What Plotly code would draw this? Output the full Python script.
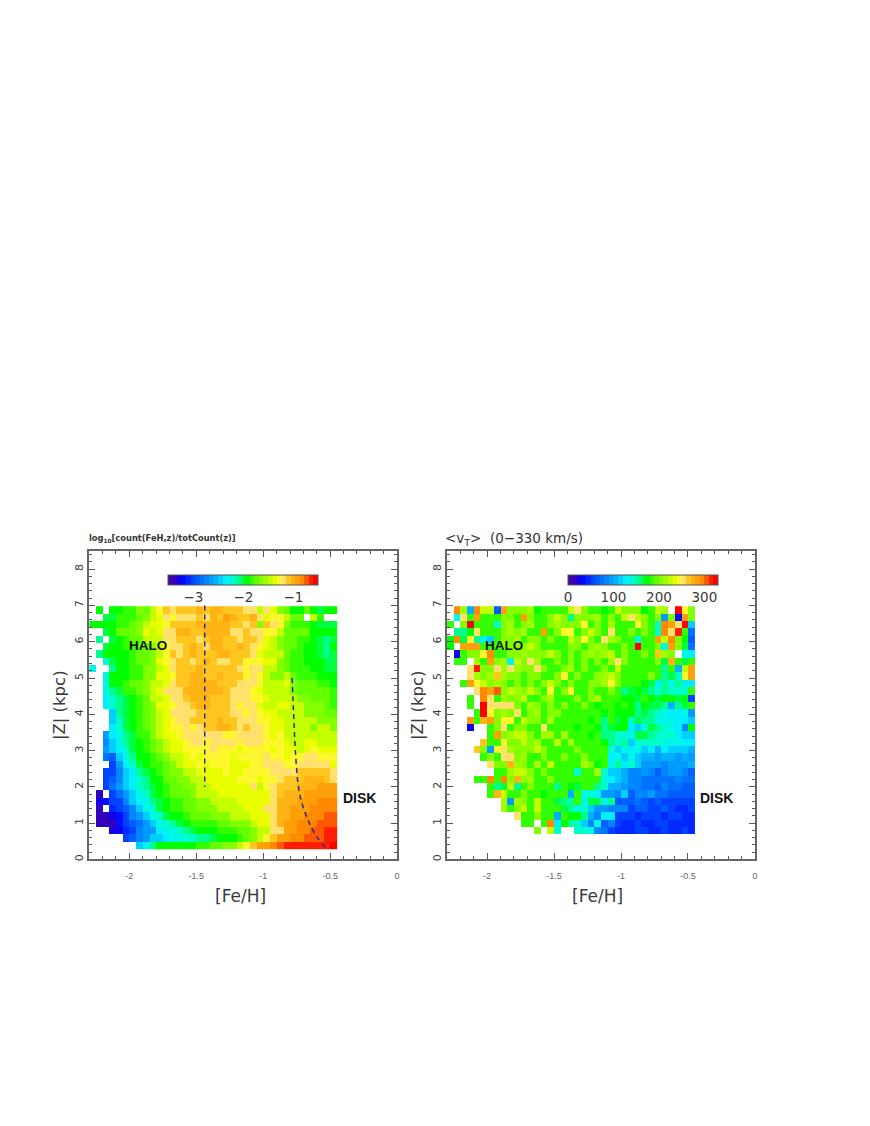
import plotly.graph_objects as go
from plotly.subplots import make_subplots

_ = None
W, H = 870, 1126

# log10 fraction x10, rows from top (|Z| high) to bottom; first entry is the [Fe/H] = -2.275 column
LOG_FRACTION_X10 = [
[_, -19,_,-19,-19,-18,-18, -16,-17,-15,-13,-11,-12, -11,-11,-11,-10,-11,-10, -10,-11,-11,-11,-12,-12, -15,-12,-14,-16,-17,-19, -19,-17,-19,-20,-19,-19],
[_, _,-20,-20,-18,-18,-18, -17,-16,-15,-14,-12,-13, -12,-12,-12,-11,-12,-10, -11,-9,-10,-11,-11,-10, -12,-14,-13,-13,-15,-17, -17,_,-15,-18,_,_],
[-19, -19,-19,-19,-18,-18,-17, -16,-15,-14,-14,-13,-11, -11,-11,-11,-10,-10,-10, -10,-10,-11,-11,-12,-11, -16,-11,-12,-13,-16,-18, -18,-18,-19,-20,-20,-20],
[_, _,-20,-19,-17,-17,-17, -16,-14,-15,-14,-12,-12, -10,-10,-11,-11,-10,-10, -10,-10,-12,-12,-11,-12, -12,-13,-13,-15,-17,-17, -17,-17,-19,-19,-19,-19],
[_, -21,_,-20,-19,-18,-17, -17,-15,-15,-15,-12,-12, -11,-11,-11,-12,-11,-10, -10,-11,-11,-12,-11,-11, -12,-14,-15,-16,-17,-17, -18,-18,-19,-20,-21,-20],
[_, _,-20,-19,-19,-18,-18, -17,-17,-16,-15,-13,-12, -12,-11,-10,-11,-12,-10, -10,-11,-11,-10,-11,-12, -13,-14,-15,-16,-17,-17, -18,-19,-19,-20,-21,-19],
[_, -21,-19,-19,-19,-19,-18, -17,-17,-16,-15,-13,-11, -12,-11,-10,-11,-11,-11, -10,-10,-11,-11,-11,-12, -14,-15,-15,-15,-17,-18, -18,-19,-19,-20,-21,-20],
[_, _,-22,-20,-19,-19,-18, -17,-17,-16,-14,-13,-12, -11,-11,-12,-11,-10,-11, -12,-12,-11,-11,-13,-13, -13,-14,-14,-16,-17,-18, -18,-19,-19,-19,-20,-20],
[-23, _,_,-21,-19,-19,-18, -18,-16,-16,-15,-14,-12, -11,-11,-11,-10,-11,-11, -11,-11,-11,-12,-13,-12, -12,-15,-15,-16,-17,-18, -18,-18,-19,-19,-20,-20],
[_, _,-23,-19,-19,-19,-18, -18,-16,-16,-14,-14,-13, -11,-11,-10,-10,-11,-11, -10,-11,-11,-11,-13,-12, -13,-15,-16,-16,-15,-17, -18,-18,-18,-19,-19,-19],
[_, _,-23,-19,-19,-18,-17, -17,-16,-15,-15,-14,-12, -11,-11,-10,-10,-10,-10, -11,-11,-11,-12,-12,-12, -13,-15,-15,-15,-14,-16, -17,-17,-17,-18,-18,-19],
[_, _,-23,-21,-20,-18,-18, -17,-16,-15,-14,-12,-12, -12,-10,-10,-10,-10,-10, -10,-11,-12,-12,-12,-13, -14,-15,-15,-15,-15,-16, -17,-17,-17,-17,-17,-18],
[_, _,-24,-22,-21,-20,-19, -18,-17,-15,-15,-14,-12, -12,-11,-10,-10,-10,-11, -11,-11,-12,-12,-12,-13, -13,-14,-15,-15,-15,-15, -16,-16,-17,-17,-17,-18],
[_, _,-24,-22,-21,-20,-19, -18,-17,-16,-14,-14,-13, -12,-12,-11,-10,-10,-11, -11,-11,-12,-13,-12,-12, -14,-15,-15,-14,-14,-15, -15,-16,-16,-16,-17,-18],
[_, _,_,-25,-21,-20,-19, -18,-17,-16,-15,-14,-12, -12,-12,-12,-11,-11,-11, -11,-11,-12,-12,-13,-12, -13,-14,-14,-15,-15,-15, -15,-16,-16,-16,-17,-17],
[_, _,_,-25,-22,-20,-19, -18,-17,-16,-15,-14,-13, -12,-12,-11,-11,-11,-11, -10,-11,-11,-12,-12,-12, -13,-13,-14,-14,-15,-15, -15,-15,-15,-16,-16,-16],
[_, _,_,-24,-22,-20,-19, -18,-17,-16,-15,-14,-13, -13,-12,-13,-12,-11,-11, -10,-10,-11,-12,-11,-12, -12,-13,-14,-14,-15,-15, -15,-15,-16,-15,-15,-16],
[_, _,-26,-24,-23,-21,-20, -18,-18,-16,-15,-14,-14, -13,-12,-12,-12,-12,-12, -12,-13,-13,-12,-12,-12, -12,-13,-14,-13,-15,-15, -15,-15,-15,-15,-15,-15],
[_, _,-27,-25,-23,-21,-20, -19,-18,-17,-16,-15,-14, -14,-13,-12,-12,-13,-12, -12,-12,-12,-13,-12,-12, -12,-13,-13,-13,-14,-15, -15,-14,-14,-15,-15,-15],
[_, _,-26,-25,-24,-22,-20, -19,-18,-17,-16,-15,-14, -14,-13,-13,-13,-13,-12, -13,-13,-13,-14,-13,-13, -13,-13,-14,-13,-14,-14, -15,-14,-13,-14,-14,-14],
[_, _,-28,-29,-25,-23,-21, -19,-19,-18,-17,-16,-15, -15,-14,-13,-14,-13,-13, -13,-13,-14,-13,-13,-13, -13,-12,-13,-13,-14,-13, -13,-12,-12,-13,-13,-13],
[_, _,_,-30,-26,-24,-22, -20,-19,-18,-18,-17,-16, -15,-14,-14,-13,-14,-13, -13,-13,-14,-14,-14,-13, -13,-12,-12,-12,-13,-13, -12,-12,-12,-12,-12,-14],
[_, _,-30,-30,-27,-25,-24, -21,-20,-19,-18,-17,-16, -16,-15,-15,-14,-14,-14, -14,-13,-14,-14,-13,-13, -13,-13,-12,-12,-12,-12, -11,-11,-11,-11,-11,-12],
[_, _,-30,-29,-27,-25,-24, -22,-21,-19,-19,-17,-17, -16,-16,-15,-15,-14,-14, -14,-14,-14,-13,-13,-13, -14,-13,-13,-12,-11,-11, -11,-10,-10,-10,-11,-12],
[_, _,-30,-28,-26,-25,-24, -22,-21,-20,-19,-18,-17, -17,-16,-16,-15,-15,-14, -14,-14,-14,-14,-14,-12, -15,-13,-12,-11,-11,-11, -10,-10,-10,-9,-9,-9],
[_, -34,_,-30,-28,-26,-25, -23,-22,-20,-19,-18,-17, -17,-17,-16,-15,-15,-15, -14,-14,-14,-14,-14,-14, -14,-14,-12,-11,-10,-10, -10,-9,-9,-9,-9,-9],
[_, -33,-32,-30,-30,-27,-25, -24,-23,-21,-20,-19,-18, -18,-17,-17,-16,-16,-15, -15,-15,-15,-14,-14,-14, -14,-14,-12,-10,-10,-10, -9,-9,-9,-8,-8,-8],
[_, -34,_,-31,-30,-29,-27, -25,-23,-22,-20,-19,-18, -18,-17,-17,-16,-16,-16, -15,-15,-15,-15,-14,-14, -14,-12,-12,-10,-10,-9, -9,-9,-8,-8,-8,-8],
[_, -34,-34,-33,-32,-30,-27, -26,-25,-23,-22,-20,-19, -19,-18,-17,-17,-17,-16, -16,-16,-15,-15,-15,-14, -14,-14,-12,-10,-10,-9, -9,-8,-8,-8,-7,-7],
[_, -34,-34,-34,-32,-30,-29, -28,-26,-25,-23,-22,-21, -20,-19,-18,-18,-18,-18, -17,-17,-16,-16,-16,-15, -14,-14,-12,-10,-9,-9, -8,-8,-8,-7,-7,-7],
[_, _,_,-33,-33,-31,-30, -27,-26,-26,-24,-23,-23, -22,-21,-20,-19,-19,-19, -18,-18,-18,-17,-17,-16, -15,-15,-12,-12,-9,-9, -8,-8,-7,-7,-6,-6],
[_, _,_,_,_,-30,-29, -27,-26,-25,-25,-24,-23, -23,-22,-22,-21,-21,-20, -19,-19,-19,-18,-17,-16, -15,-13,-11,-9,-9,-8, -8,-7,-7,-7,-6,-6],
[_, _,_,_,_,_,_, -25,-23,-21,-19,-19,-19, -19,-19,-19,-18,-18,-17, -17,-16,-16,-15,-13,-11, -9,-9,-8,-7,-6,-6, -6,-6,-6,-6,-6,-5],
]

# mean v_T in units of 10 km/s, same grid
VT_TENS = [
[_, 29,21,10,29,22,23, 6,28,20,20,20,21, 17,18,19,18,18,23, 25,20,19,19,17,19, 22,20,20,20,17,19, 23,21,_,32,24,20],
[_, 13,25,18,28,18,18, 19,20,20,19,28,20, 19,19,20,23,20,15, 20,20,20,21,19,20, 19,22,25,23,20,19, 20,9,20,3,28,20],
[18, _,20,32,18,18,19, 14,20,21,19,20,21, 19,18,20,21,20,20, 20,24,18,20,19,21, 18,18,19,24,20,19, 14,29,28,25,32,11],
[_, 15,15,17,25,18,18, 19,20,21,20,21,19, 19,28,19,20,24,24, 19,20,23,20,19,25, 19,18,20,19,20,19, 14,29,25,31,18,7],
[17, 29,16,24,15,13,11, 19,20,20,21,18,20, 20,18,20,18,19,22, 20,24,20,19,25,21, 20,19,18,13,19,19, 28,23,29,20,17,6],
[17, _,28,28,28,18,19, 19,20,20,20,20,23, 20,19,18,18,19,20, 20,19,20,21,20,19, 18,20,19,32,18,19, 20,13,28,20,16,7],
[_, 2,19,20,20,24,29, 18,19,20,20,21,20, 20,20,22,20,19,20, 19,20,21,20,21,23, 18,20,19,18,20,19, 26,21,20,_,13,12],
[_, 18,18,_,21,19,28, 20,21,13,23,20,25, 21,18,19,20,18,20, 19,20,19,20,19,21, 25,20,19,18,19,19, 20,16,27,19,16,19],
[_, _,_,25,31,20,20, 25,21,25,21,20,20, 25,20,19,18,20,21, 18,20,18,19,20,18, 22,19,18,19,18,18, 19,15,18,10,22,28],
[_, _,_,25,21,20,21, 26,21,20,20,18,20, 20,18,19,20,24,19, 20,18,19,20,21,22, 20,19,19,18,18,20, 18,15,16,14,24,28],
[_, _,19,28,24,22,20, 21,20,18,20,19,20, 19,20,22,20,19,20, 19,19,20,20,21,24, 20,18,18,19,17,16, 12,15,13,15,12,12],
[_, _,_,_,25,29,28, 30,20,22,21,20,22, 20,19,24,19,20,24, 19,18,20,19,19,20, 18,15,16,17,16,15, 14,15,14,14,14,18],
[_, _,_,19,_,29,25, 19,21,20,20,22,19, 18,20,21,19,18,19, 20,19,20,21,18,19, 18,17,17,16,18,17, 16,17,17,16,17,5],
[_, _,_,19,_,32,25, 25,25,25,20,19,21, 20,19,20,19,20,18, 19,20,18,17,19,18, 17,18,17,15,17,16, 16,15,10,15,16,18],
[_, _,_,_,18,32,24, 20,21,20,25,19,20, 21,19,20,20,18,19, 18,19,18,18,17,18, 17,17,17,15,16,15, 14,13,12,12,13,9],
[_, _,_,28,19,27,28, 20,24,24,19,22,20, 20,19,21,19,18,19, 18,19,17,18,15,18, 16,17,14,16,15,15, 13,13,13,12,12,11],
[_, _,_,2,_,_,19, 20,25,19,20,20,19, 19,25,19,19,18,18, 17,18,19,17,15,16, 17,17,12,11,13,16, 15,14,13,12,8,17],
[_, _,_,_,_,_,19, 28,20,21,22,22,20, 19,21,21,19,21,18, 19,19,17,18,15,15, 14,13,13,16,16,15, 14,14,14,12,11,11],
[_, _,_,_,_,26,19, 19,24,20,20,23,20, 21,19,19,22,18,21, 18,18,18,19,17,15, 14,15,11,14,14,14, 14,13,13,13,12,12],
[_, _,_,_,26,20,9, 24,25,21,20,20,20, 22,20,18,18,19,19, 20,18,18,18,19,14, 11,13,12,13,11,12, 10,12,11,11,11,10],
[_, _,_,_,_,19,20, 19,25,25,20,21,19, 19,20,19,19,20,18, 18,20,19,18,19,12, 13,11,13,11,10,10, 9,10,10,9,10,9],
[_, _,_,_,_,_,25, 20,20,27,21,20,18, 21,19,22,19,18,18, 19,21,20,17,18,13, 15,12,14,11,9,9, 9,8,9,9,9,10],
[_, _,_,_,_,_,_, 18,18,21,22,22,20, 19,20,19,19,18,19, 14,18,18,21,14,11, 11,10,8,8,9,8, 6,8,9,9,8,6],
[_, _,_,_,18,18,29, 19,29,20,27,20,21, 18,19,20,19,19,18, 19,18,19,18,13,12, 11,10,8,8,7,7, 7,7,7,8,7,7],
[_, _,_,_,_,_,18, 15,16,23,15,19,20, 18,19,18,15,19,17, 16,18,18,15,14,10, 10,9,8,8,7,7, 6,8,7,7,6,6],
[_, _,_,_,_,_,19, 27,22,18,18,20,19, 19,17,19,19,18,10, 18,13,14,12,9,9, 8,11,6,8,8,9, 7,7,6,6,6,6],
[_, _,_,_,_,_,_, _,21,9,21,20,18, 23,18,19,16,15,15, 18,13,16,16,13,15, 6,6,6,7,6,5, 6,5,5,5,5,5],
[_, _,_,_,_,_,_, _,21,19,20,22,18, 22,18,19,19,16,15, 13,14,11,9,9,8, 8,8,5,6,6,5, 5,6,5,4,4,5],
[_, _,_,_,_,_,_, _,_,_,25,19,19, 20,19,19,10,18,17, 17,15,10,8,12,12, 5,5,5,4,5,5, 5,4,5,5,4,4],
[_, _,_,_,_,_,_, _,_,_,_,18,18, _,18,29,12,17,15, 14,11,8,13,6,8, 5,4,4,5,4,4, 5,5,4,4,4,4],
[_, _,_,_,_,_,_, _,_,_,_,_,_, 20,_,22,14,_,_, 14,14,13,8,7,5, 4,4,4,5,5,4, 4,5,4,4,5,4],
[_]*37,
[_]*37,
]

# cell centres
FEH_BINS = [-2.275,-2.225,-2.175,-2.125,-2.075,-2.025,-1.975,-1.925,-1.875,-1.825,-1.775,-1.725,-1.675,
            -1.625,-1.575,-1.525,-1.475,-1.425,-1.375,-1.325,-1.275,-1.225,-1.175,-1.125,-1.075,-1.025,
            -0.975,-0.925,-0.875,-0.825,-0.775,-0.725,-0.675,-0.625,-0.575,-0.525,-0.475]
Z_BINS = [6.8775,6.675,6.4725,6.27,6.0675,5.865,5.6625,5.46,5.2575,5.055,4.8525,4.65,4.4475,4.245,4.0425,
          3.84,3.6375,3.435,3.2325,3.03,2.8275,2.625,2.4225,2.22,2.0175,1.815,1.6125,1.41,1.2075,1.005,
          0.8025,0.6,0.3975]

HALO_LINE_FEH = [-1.437, -1.437]
HALO_LINE_Z = [7.0, 2.0]
DISK_LINE_FEH = [-0.784, -0.773, -0.76, -0.737, -0.707, -0.655, -0.595, -0.53]
DISK_LINE_Z = [5.0, 4.0, 3.0, 2.0, 1.5, 1.0, 0.6, 0.3]

LOG_TICKS = [-3, -2, -1]
VT_TICKS = [0, 100, 200, 300]
X_TICKS = [-2, -1.5, -1, -0.5, 0]
X_TICK_LABELS = ["-2", "-1.5", "-1", "-0.5", "0"]
Y_TICKS = [0, 1, 2, 3, 4, 5, 6, 7, 8]

for rows in (LOG_FRACTION_X10, VT_TENS):
    assert all(len(r) == 37 for r in rows) and len(rows) == 33

ANCHORS = [(0, (80,0,150)), (.05, (48,0,192)), (.09, (0,0,255)), (.2, (0,96,255)), (.32, (0,176,255)),
           (.38, (0,240,255)), (.45, (0,255,192)), (.5, (0,255,64)), (.53, (0,255,0)), (.59, (100,255,0)),
           (.66, (170,255,0)), (.73, (255,255,0)), (.765, (255,232,128)), (.80, (255,200,32)), (.89, (255,144,0)),
           (.93, (255,80,0)), (.97, (255,0,0)), (1, (255,0,0))]

def color_at(f):
    for (a, ca), (b, cb) in zip(ANCHORS, ANCHORS[1:]):
        if f <= b:
            t = (f - a) / (b - a)
            return "rgb(%d,%d,%d)" % tuple(round(p + (q - p) * t) for p, q in zip(ca, cb))
    return "rgb(255,0,0)"

NSTEP = 33
COLORSCALE = []
for i in range(NSTEP):
    c = color_at((i + .5) / NSTEP)
    COLORSCALE += [[i / NSTEP, c], [(i + 1) / NSTEP, c]]

INK = "#3a3a3a"
fig = make_subplots(rows=1, cols=2)

def px_x(p): return p / W
def py(p): return 1 - p / H

def bar(x0):
    return dict(orientation="h", lenmode="pixels", len=150, thicknessmode="pixels", thickness=10,
                x=px_x(x0), xanchor="left", y=py(576), yanchor="top", xpad=0, ypad=0,
                outlinecolor="#555", outlinewidth=1, ticks="", ticklabelposition="outside bottom",
                tickfont=dict(family="DejaVu Sans", size=13.5, color=INK), tickmode="array")

log_bar = bar(169); log_bar.update(tickvals=LOG_TICKS, ticktext=["\u2212%d" % abs(v) for v in LOG_TICKS])
vt_bar = bar(570); vt_bar.update(tickvals=VT_TICKS, ticktext=[str(v) for v in VT_TICKS])

fig.add_trace(go.Heatmap(x=FEH_BINS, y=Z_BINS, z=[[None if v is None else v / 10 for v in r] for r in LOG_FRACTION_X10],
                         zmin=-3.5, zmax=-0.5, colorscale=COLORSCALE, colorbar=log_bar, hoverongaps=False), 1, 1)
fig.add_trace(go.Heatmap(x=FEH_BINS, y=Z_BINS, z=[[None if v is None else v * 10 for v in r] for r in VT_TENS],
                         zmin=0, zmax=330, colorscale=COLORSCALE, colorbar=vt_bar, hoverongaps=False), 1, 2)
line = dict(color="#2a2a9a", width=1.5, dash="5px,4px")
fig.add_trace(go.Scatter(x=HALO_LINE_FEH, y=HALO_LINE_Z, mode="lines", line=line, showlegend=False), 1, 1)
fig.add_trace(go.Scatter(x=DISK_LINE_FEH, y=DISK_LINE_Z, mode="lines", line=dict(line, shape="spline"), showlegend=False), 1, 1)

TOP, BOTTOM = 552, 861
for col, (l, r) in enumerate([(89.5, 398.5), (448.5, 757.5)], 1):
    fig.update_xaxes(row=1, col=col, domain=[l / W, r / W], range=[-2.3, 0], tickmode="array", tickvals=X_TICKS,
                     ticktext=X_TICK_LABELS, ticks="inside", ticklen=6, tickwidth=1.2, tickcolor="#555",
                     minor=dict(dtick=0.1, ticks="inside", ticklen=3, tickwidth=1, tickcolor="#555"),
                     showline=True, linecolor="#666", linewidth=2, mirror="allticks", showgrid=False, zeroline=False,
                     ticklabelstandoff=7,
                     tickfont=dict(family="Liberation Sans", size=9, color="#666"))
    fig.update_yaxes(row=1, col=col, domain=[py(BOTTOM), py(TOP)], range=[0, 8.5], tickmode="array", tickvals=Y_TICKS,
                     ticks="inside", ticklen=6, tickwidth=1.2, tickcolor="#555",
                     minor=dict(dtick=0.2, ticks="inside", ticklen=3, tickwidth=1, tickcolor="#555"),
                     showline=True, linecolor="#666", linewidth=2, mirror="allticks", showgrid=False, zeroline=False,
                     tickangle=-90, tickfont=dict(family="DejaVu Sans", size=11, color=INK),
                     title=dict(text="|Z| (kpc)", font=dict(family="DejaVu Sans", size=16.5, color=INK), standoff=3))

def note(text, x, y, size, family="Liberation Sans", color="#111", anchor="left"):
    fig.add_annotation(xref="paper", yref="paper", x=px_x(x), y=py(y), text=text, showarrow=False, xanchor=anchor,
                       yanchor="middle", font=dict(family=family, size=size, color=color))

note("<b>HALO</b>", 127, 647, 13.5)
note("<b>DISK</b>", 342, 799, 14)
note("<b>HALO</b>", 485, 647, 13.5)
note("<b>DISK</b>", 700, 799, 14)
note("<b>log<sub>10</sub>[count(FeH,z)/totCount(z)]</b>", 87, 539, 8.3, "DejaVu Sans", "#333")
note("<v<sub>T</sub>>  (0\u2212330 km/s)", 445, 540, 13.5, "DejaVu Sans", "#333")
note("[Fe/H]", 241.5, 898, 17, "DejaVu Sans", INK, "center")
note("[Fe/H]", 600, 898, 17, "DejaVu Sans", INK, "center")

fig.update_layout(width=W, height=H, margin=dict(l=0, r=0, t=0, b=0), paper_bgcolor="white", plot_bgcolor="white",
                  showlegend=False)
fig.write_html("out.html", config=dict(displayModeBar=False),
               post_script="document.body.style.margin='0';document.body.style.overflow='hidden';")
